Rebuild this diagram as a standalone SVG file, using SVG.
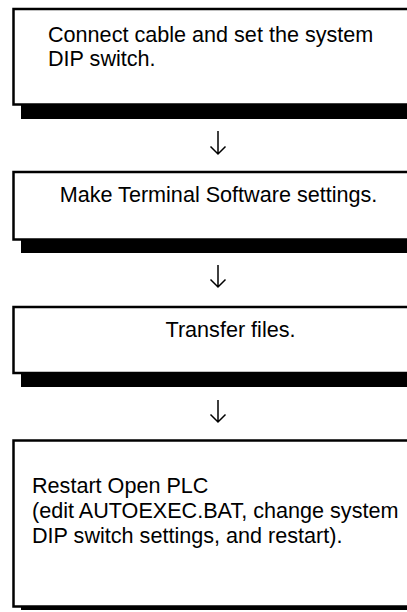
<svg xmlns="http://www.w3.org/2000/svg" width="407" height="612" viewBox="0 0 407 612">
<style>
.box{fill:#fff;stroke:#000;stroke-width:2.5}
.sh{fill:#000}
.t{font-family:"Liberation Sans",Arial,sans-serif;font-size:21.6px;fill:#000}
.c{stroke:#000;stroke-width:1.5;fill:none}
</style>
<rect width="407" height="612" fill="#fff"/>
<g id="step1">
<rect class="sh" x="21" y="104" width="400" height="15"/>
<rect class="box" x="13.5" y="9" width="410" height="95.5"/>
<text class="t" x="48" y="42">Connect cable and set the system</text>
<text class="t" x="48" y="66">DIP switch.</text>
</g>
<g id="step2">
<rect class="sh" x="21" y="239" width="400" height="14"/>
<rect class="box" x="13.5" y="172" width="410" height="67.5"/>
<text class="t" x="218.5" y="201.5" text-anchor="middle">Make Terminal Software settings.</text>
</g>
<g id="step3">
<rect class="sh" x="21" y="373" width="400" height="14"/>
<rect class="box" x="13.5" y="307" width="410" height="66"/>
<text class="t" x="230.5" y="336.5" text-anchor="middle">Transfer files.</text>
</g>
<g id="step4">
<rect class="sh" x="21" y="606" width="400" height="4"/>
<rect class="box" x="13.5" y="440.5" width="410" height="166"/>
<text class="t" x="32" y="493">Restart Open PLC</text>
<text class="t" x="32" y="518">(edit AUTOEXEC.BAT, change system</text>
<text class="t" x="32" y="543">DIP switch settings, and restart).</text>
</g>
<g id="connectors">
<path class="c" d="M218 131V154M210.5 146.5L218 154L225.5 146.5"/>
<path class="c" d="M218 265V287M210.5 279.5L218 287L225.5 279.5"/>
<path class="c" d="M218 400V422M210.5 414.5L218 422L225.5 414.5"/>
</g>
</svg>
